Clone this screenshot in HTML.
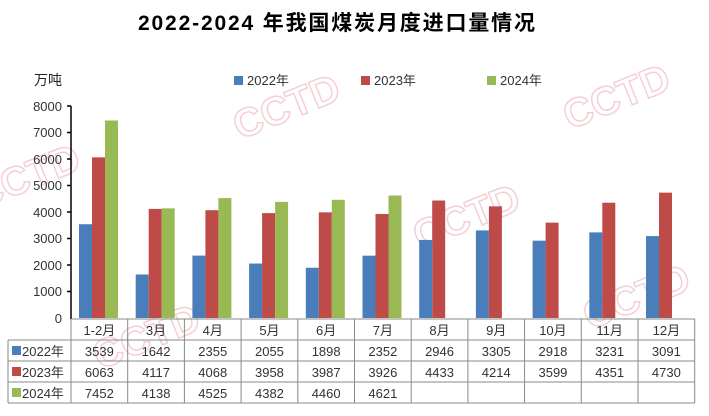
<!DOCTYPE html>
<html><head><meta charset="utf-8"><style>body{margin:0;background:#fff}svg{display:block}</style></head><body>
<svg width="709" height="416" xmlns="http://www.w3.org/2000/svg" font-family="Liberation Sans, Noto Sans CJK SC, sans-serif">
<g fill="none" stroke="#f4d0d4" stroke-width="1.5" font-size="40" font-weight="bold">
<text x="240" y="140" transform="rotate(-22 240 140)">CCTD</text>
<text x="570" y="130" transform="rotate(-22 570 130)">CCTD</text>
<text x="420" y="250" transform="rotate(-22 420 250)">CCTD</text>
<text x="-20" y="210" transform="rotate(-22 -20 210)">CCTD</text>
<text x="100" y="370" transform="rotate(-22 100 370)">CCTD</text>
<text x="590" y="330" transform="rotate(-22 590 330)">CCTD</text>
</g>
<text x="138" y="30" font-size="21" font-weight="bold" fill="#000" textLength="397" lengthAdjust="spacing">2022-2024 年我国煤炭月度进口量情况</text>
<text x="34" y="85" font-size="14" fill="#222">万吨</text>
<rect x="234" y="76" width="9" height="9" fill="#4a7ebb"/><text x="247" y="85" font-size="13" fill="#333">2022年</text>
<rect x="361" y="76" width="9" height="9" fill="#be4b48"/><text x="374" y="85" font-size="13" fill="#333">2023年</text>
<rect x="487" y="76" width="9" height="9" fill="#98b954"/><text x="500" y="85" font-size="13" fill="#333">2024年</text>
<g font-size="13" fill="#333" text-anchor="end">
<text x="62" y="111">8000</text><text x="62" y="137">7000</text><text x="62" y="164">6000</text><text x="62" y="190">5000</text><text x="62" y="217">4000</text><text x="62" y="243">3000</text><text x="62" y="270">2000</text><text x="62" y="296">1000</text><text x="62" y="323">0</text>
</g>
<g stroke="#000" stroke-width="1.5"><line x1="71" y1="106" x2="71" y2="319"/>
<line x1="67" y1="106" x2="71" y2="106"/><line x1="67" y1="132.5" x2="71" y2="132.5"/><line x1="67" y1="159" x2="71" y2="159"/><line x1="67" y1="185.5" x2="71" y2="185.5"/><line x1="67" y1="212" x2="71" y2="212"/><line x1="67" y1="238.5" x2="71" y2="238.5"/><line x1="67" y1="265" x2="71" y2="265"/><line x1="67" y1="291.5" x2="71" y2="291.5"/></g>
<g id="bars"></g>
<g stroke="#888" stroke-width="1" fill="none" id="grid"></g>
<g font-size="13" fill="#333" id="tbl"></g>
<script>
var d=[[3539,1642,2355,2055,1898,2352,2946,3305,2918,3231,3091],[6063,4117,4068,3958,3987,3926,4433,4214,3599,4351,4730],[7452,4138,4525,4382,4460,4621]];
var c=["#4a7ebb","#be4b48","#98b954"],m=["1-2月","3月","4月","5月","6月","7月","8月","9月","10月","11月","12月"];
var x0=71,w=56.7,y0=318,s=212/8000,ns="http://www.w3.org/2000/svg";
function el(p,t,a,tx){var e=document.createElementNS(ns,t);for(var k in a)e.setAttribute(k,a[k]);if(tx)e.textContent=tx;document.getElementById(p).appendChild(e);}
for(var i=0;i<11;i++){for(var j=0;j<3;j++){if(d[j][i]==null)continue;var h=d[j][i]*s;el("bars","rect",{x:x0+i*w+8+j*13,y:y0-h,width:13,height:h,fill:c[j]});}
var cx=x0+i*w+w/2;el("tbl","text",{x:cx,y:335,"text-anchor":"middle"},m[i]);
for(var j=0;j<3;j++)if(d[j][i]!=null)el("tbl","text",{x:cx,y:356+j*21,"text-anchor":"middle"},d[j][i]);}
for(var j=0;j<3;j++){el("tbl","rect",{x:12,y:346+j*21,width:9,height:9,fill:c[j]});el("tbl","text",{x:22,y:356+j*21},(2022+j)+"年");}
for(var i=0;i<=11;i++)el("grid","line",{x1:x0+i*w,y1:319,x2:x0+i*w,y2:403});
el("grid","line",{x1:8,y1:340,x2:8,y2:403});
for(var r=0;r<4;r++)el("grid","line",{x1:r==0?71:8,y1:319+r*21,x2:695,y2:319+r*21});
el("grid","line",{x1:8,y1:403,x2:695,y2:403});
</script>
</svg>
</body></html>
